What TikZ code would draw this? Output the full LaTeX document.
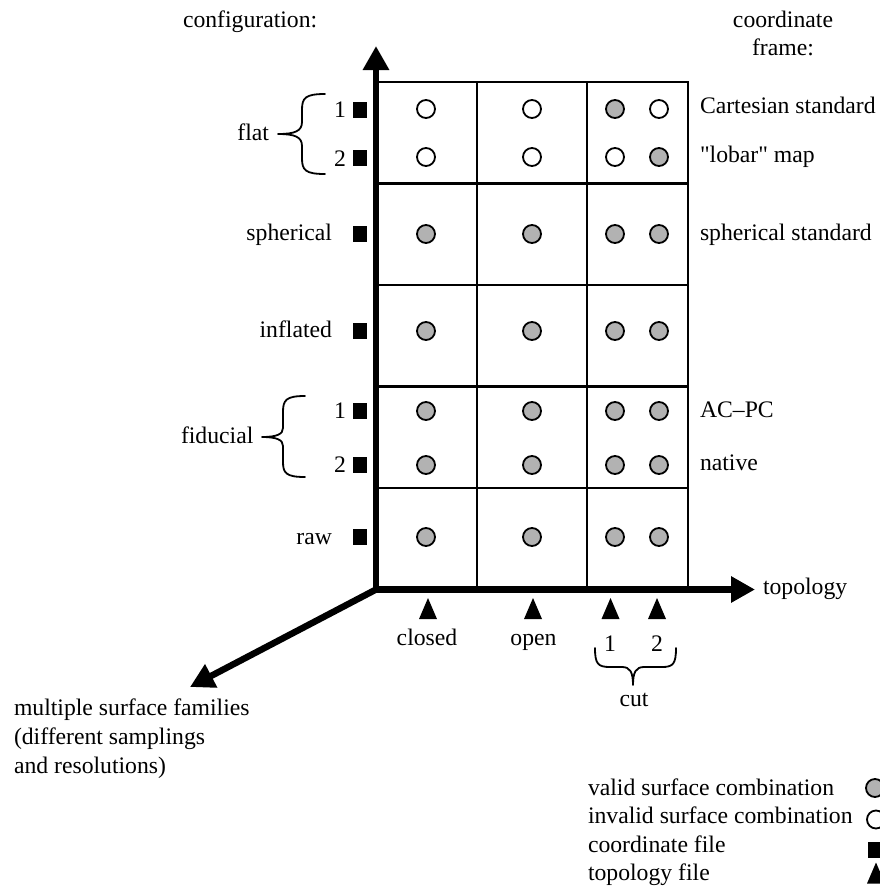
\documentclass[tikz,border=0pt]{standalone}
\usepackage{fontspec}
\setmainfont{Liberation Serif}[Ligatures=TeXOff]
\usetikzlibrary{arrows.meta}
\begin{document}
\begin{tikzpicture}[x=1pt,y=-1pt,
  every node/.style={font=\fontsize{23.7}{28}\selectfont, inner sep=0pt, outer sep=0pt},
  lw/.style={anchor=base west},
  le/.style={anchor=base east},
  lc/.style={anchor=base},
  valid/.style={circle,draw,line width=1.8pt,fill=gray!60,minimum size=18pt},
  invalid/.style={circle,draw,line width=1.8pt,fill=white,minimum size=18pt},
  cfile/.style={rectangle,fill=black,minimum width=14pt,minimum height=16pt},
  tfile/.pic={\fill (-9,10.5) -- (9,10.5) -- (0,-10.5) -- cycle;},
  gridline/.style={line width=2.5pt},
  axis/.style={line width=6.5pt,-{Triangle[length=24pt,width=25pt]}},
  bracestyle/.style={line width=1.8pt,line cap=round,line join=round},
]
\useasboundingbox (0,0) rectangle (880,887);

% grid corners
\coordinate (O) at (376,589.5);
\coordinate (Ytip) at (376,46);
\coordinate (Xtip) at (755,589.5);
\coordinate (Ztip) at (190,687);
\coordinate (TL) at (376,82);
\coordinate (TR) at (688,82);
\coordinate (BR) at (688,589.5);
\coordinate (C1t) at (477,82);  \coordinate (C1b) at (477,589.5);
\coordinate (C2t) at (587,82);  \coordinate (C2b) at (587,589.5);
\coordinate (R1l) at (376,183.5); \coordinate (R1r) at (688,183.5);
\coordinate (R2l) at (376,285);   \coordinate (R2r) at (688,285);
\coordinate (R3l) at (376,386.5); \coordinate (R3r) at (688,386.5);
\coordinate (R4l) at (376,488);   \coordinate (R4r) at (688,488);

% grid
\draw[gridline] (TL) -- (TR) -- (BR);
\draw[gridline] (C1t) -- (C1b);
\draw[gridline] (C2t) -- (C2b);
\draw[gridline] (R1l) -- (R1r);
\draw[gridline] (R2l) -- (R2r);
\draw[gridline] (R3l) -- (R3r);
\draw[gridline] (R4l) -- (R4r);

% axes
\draw[axis] (O) -- (Ytip);
\draw[axis] (O) -- (Xtip);
\draw[axis] (O) -- (Ztip);

% circles: flat
\node[invalid] (f1a) at (426,109) {};
\node[invalid] (f1b) at (532,109) {};
\node[valid]   (f1c) at (615,109) {};
\node[invalid] (f1d) at (659,109) {};
\node[invalid] (f2a) at (426,157) {};
\node[invalid] (f2b) at (532,157) {};
\node[invalid] (f2c) at (615,157) {};
\node[valid]   (f2d) at (659,157) {};
% spherical
\node[valid] (sa) at (426,234) {};
\node[valid] (sb) at (532,234) {};
\node[valid] (sc) at (615,234) {};
\node[valid] (sd) at (659,234) {};
% inflated
\node[valid] (ia) at (426,331) {};
\node[valid] (ib) at (532,331) {};
\node[valid] (ic) at (615,331) {};
\node[valid] (id) at (659,331) {};
% fiducial
\node[valid] (d1a) at (426,411) {};
\node[valid] (d1b) at (532,411) {};
\node[valid] (d1c) at (615,411) {};
\node[valid] (d1d) at (659,411) {};
\node[valid] (d2a) at (426,465) {};
\node[valid] (d2b) at (532,465) {};
\node[valid] (d2c) at (615,465) {};
\node[valid] (d2d) at (659,465) {};
% raw
\node[valid] (ra) at (426,537) {};
\node[valid] (rb) at (532,537) {};
\node[valid] (rc) at (615,537) {};
\node[valid] (rd) at (659,537) {};

% coordinate file squares
\node[cfile] (qf1) at (360,110) {};
\node[cfile] (qf2) at (360,158) {};
\node[cfile] (qs) at (360,233.5) {};
\node[cfile] (qi) at (360,331) {};
\node[cfile] (qd1) at (360,411) {};
\node[cfile] (qd2) at (360,465) {};
\node[cfile] (qr) at (360,537) {};

% topology file triangles
\pic at (428,608.5) {tfile};
\pic at (533,608.5) {tfile};
\pic at (610.5,608.5) {tfile};
\pic at (657,608.5) {tfile};

% left labels
\node[le] (n1f) at (346,117) {1};
\node[le] (n2f) at (346,166) {2};
\node[le] (lflat) at (269,140) {flat};
\node[le] (lsph) at (332,240) {spherical};
\node[le] (linf) at (332,337) {inflated};
\node[le] (n1d) at (346,418) {1};
\node[le] (n2d) at (346,472) {2};
\node[lw] (lfid) at (181,443) {fiducial};
\node[le] (lraw) at (332,544) {raw};

% braces (left-pointing)
\draw[bracestyle] (325,94) .. controls (305,94) and (302,98) .. (302,110)
  -- (302,122) .. controls (302,131) and (295,134) .. (278,134)
  .. controls (295,134) and (302,137) .. (302,146)
  -- (302,158) .. controls (302,170) and (305,174) .. (325,174);
\draw[bracestyle] (305,396) .. controls (286,396) and (283,400) .. (283,412)
  -- (283,428) .. controls (283,434) and (277,437) .. (262,437)
  .. controls (277,437) and (283,440) .. (283,446)
  -- (283,462) .. controls (283,473) and (286,477) .. (305,477);
% brace (down-pointing) for cut
\draw[bracestyle] (595,648) .. controls (595,664) and (598,667) .. (610,667)
  -- (622,667) .. controls (630,667) and (633,672) .. (633,685)
  .. controls (633,672) and (636,667) .. (644,667)
  -- (662,667) .. controls (673,667) and (676,664) .. (676,648);

% right labels
\node[lw] (rcart) at (700,113) {Cartesian standard};
\node[lw] (rlob) at (700,162) {"lobar" map};
\node[lw] (rsph) at (700,240) {spherical standard};
\node[lw] (racpc) at (700,417) {AC–PC};
\node[lw] (rnat) at (700,470) {native};

% top labels
\node[lw] (tconf) at (183,27) {configuration:};
\node[lc] (tcoord) at (783,27) {coordinate};
\node[lc] (tframe) at (783,55) {frame:};

% bottom labels
\node[lw] (ltopo) at (763,594) {topology};
\node[lc] (lclosed) at (427,645) {closed};
\node[lc] (lopen) at (533.5,645) {open};
\node[lc] (lc1) at (610,651) {1};
\node[lc] (lc2) at (657,651) {2};
\node[lc] (lcut) at (634,706) {cut};

\node[lw] (m1) at (14,715) {multiple surface families};
\node[lw] (m2) at (14,744) {(different samplings};
\node[lw] (m3) at (14,773) {and resolutions)};

% legend
\node[lw] (g1) at (588,795) {valid surface combination};
\node[lw] (g2) at (588,823) {invalid surface combination};
\node[lw] (g3) at (588,852) {coordinate file};
\node[lw] (g4) at (588,880) {topology file};
\node[valid] (gv) at (875,788) {};
\node[invalid] (gi) at (876,819.5) {};
\node[cfile] (gq) at (875,849.5) {};
\pic at (876,873) {tfile};
\end{tikzpicture}
\end{document}
